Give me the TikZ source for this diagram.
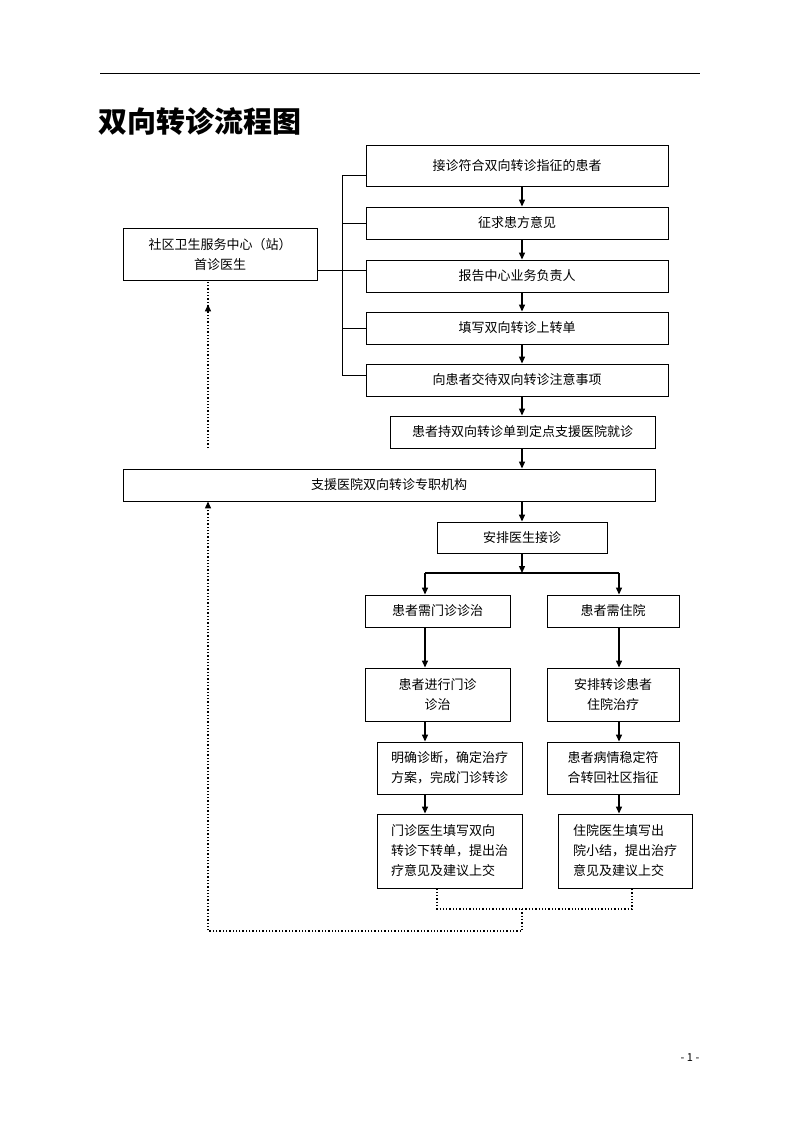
\documentclass[tikz,border=0pt]{standalone}
\usepackage{fontspec}
\setmainfont{Noto Sans CJK SC}
\usetikzlibrary{arrows.meta}
\tikzset{
  box/.style={draw,line width=0.9pt,inner sep=2pt,font=\fontsize{13}{20}\selectfont,align=center},
  arr/.style={line width=1.3pt,-{Triangle[length=7pt,width=6pt]}},
  ln/.style={line width=0.9pt},
  dot/.style={line width=1.3pt,dotted},
  darr/.style={dot,-{Triangle[length=7pt,width=6pt]}}
}
\newcommand\bx[6]{\node[box,minimum width={(#4-#2)*1pt},minimum height={(#5-#3)*1pt}] (#1) at ({(#2+#4)/2},{(#3+#5)/2}) {#6};}
\begin{document}
\begin{tikzpicture}[x=1pt,y=-1pt]
\useasboundingbox (0,0) rectangle (800,1132);
\draw[line width=0.8pt] (100,73) -- (700,73);
\node[anchor=west,font=\fontsize{29}{30}\selectfont\bfseries,inner sep=0] (title) at (98,121) {双向转诊流程图};
\bx{b1}{366}{145}{668}{186}{接诊符合双向转诊指征的患者}
\bx{b2}{366}{207}{668}{239}{征求患方意见}
\bx{b3}{366}{260}{668}{292}{报告中心业务负责人}
\bx{b4}{366}{312}{668}{344}{填写双向转诊上转单}
\bx{b5}{366}{364}{668}{396}{向患者交待双向转诊注意事项}
\bx{b6}{390}{416}{655}{448}{患者持双向转诊单到定点支援医院就诊}
\bx{lb}{123}{228}{317}{280}{社区卫生服务中心（站）\\首诊医生}
\bx{big}{123}{469}{655}{501}{支援医院双向转诊专职机构}
\bx{c1}{437}{522}{607}{553}{安排医生接诊}
\bx{l1}{365}{595}{510}{627}{患者需门诊诊治}
\bx{r1}{547}{595}{679}{627}{患者需住院}
\bx{l2}{365}{668}{510}{721}{患者进行门诊\\诊治}
\bx{r2}{547}{668}{679}{721}{安排转诊患者\\住院治疗}
\bx{l3}{377}{742}{522}{794}{明确诊断，确定治疗\\方案，完成门诊转诊}
\bx{r3}{547}{742}{679}{794}{患者病情稳定符\\合转回社区指征}
\node[box,align=left,minimum width=145pt,minimum height=74pt] (l4) at (449.5,851) {门诊医生填写双向\\转诊下转单，提出治\\疗意见及建议上交};
\node[box,align=left,minimum width=134pt,minimum height=74pt] (r4) at (625,851) {住院医生填写出\\院小结，提出治疗\\意见及建议上交};
% bracket
\coordinate (bt) at (342,175);
\coordinate (bb) at (342,375);
\draw[ln] (bt) -- (bb);
\draw[ln] (bt) -- (b1.west|-bt);
\draw[ln] (342,223) -- (b2.west|-0,223);
\draw[ln] (lb.east|-0,270) -- (b3.west|-0,270);
\draw[ln] (342,328) -- (b4.west|-0,328);
\draw[ln] (bb) -- (b5.west|-bb);
% main arrows
\foreach \a/\b in {b1/b2,b2/b3,b3/b4,b4/b5,b5/b6}
  \draw[arr] (\a.south-|522,0) -- (\b.north-|522,0);
\draw[arr] (b6.south-|522,0) -- (big.north-|522,0);
\draw[arr] (big.south-|522,0) -- (c1.north-|522,0);
\coordinate (sp) at (522,573);
\draw[arr] (c1.south-|522,0) -- (sp);
\draw[line width=1.6pt] (425,573) -- (619,573);
\draw[arr] (425,573) -- (l1.north-|425,0);
\draw[arr] (619,573) -- (r1.north-|619,0);
\foreach \a/\b in {l1/l2,l2/l3,l3/l4}
  \draw[arr] (\a.south-|425,0) -- (\b.north-|425,0);
\foreach \a/\b in {r1/r2,r2/r3,r3/r4}
  \draw[arr] (\a.south-|619,0) -- (\b.north-|619,0);
% dotted returns
\draw[dot] (l4.south-|437,0) -- (437,909) -- (632,909) -- (r4.south-|632,0);
\draw[darr] (522,909) -- (522,931) -- (208,931) -- (big.south-|208,0);
\draw[darr] (208,448) -- (lb.south-|208,0) ++(0,24);
\node[font=\fontsize{11}{12}\selectfont] (pg) at (690,1058) {- 1 -};
\end{tikzpicture}
\end{document}
